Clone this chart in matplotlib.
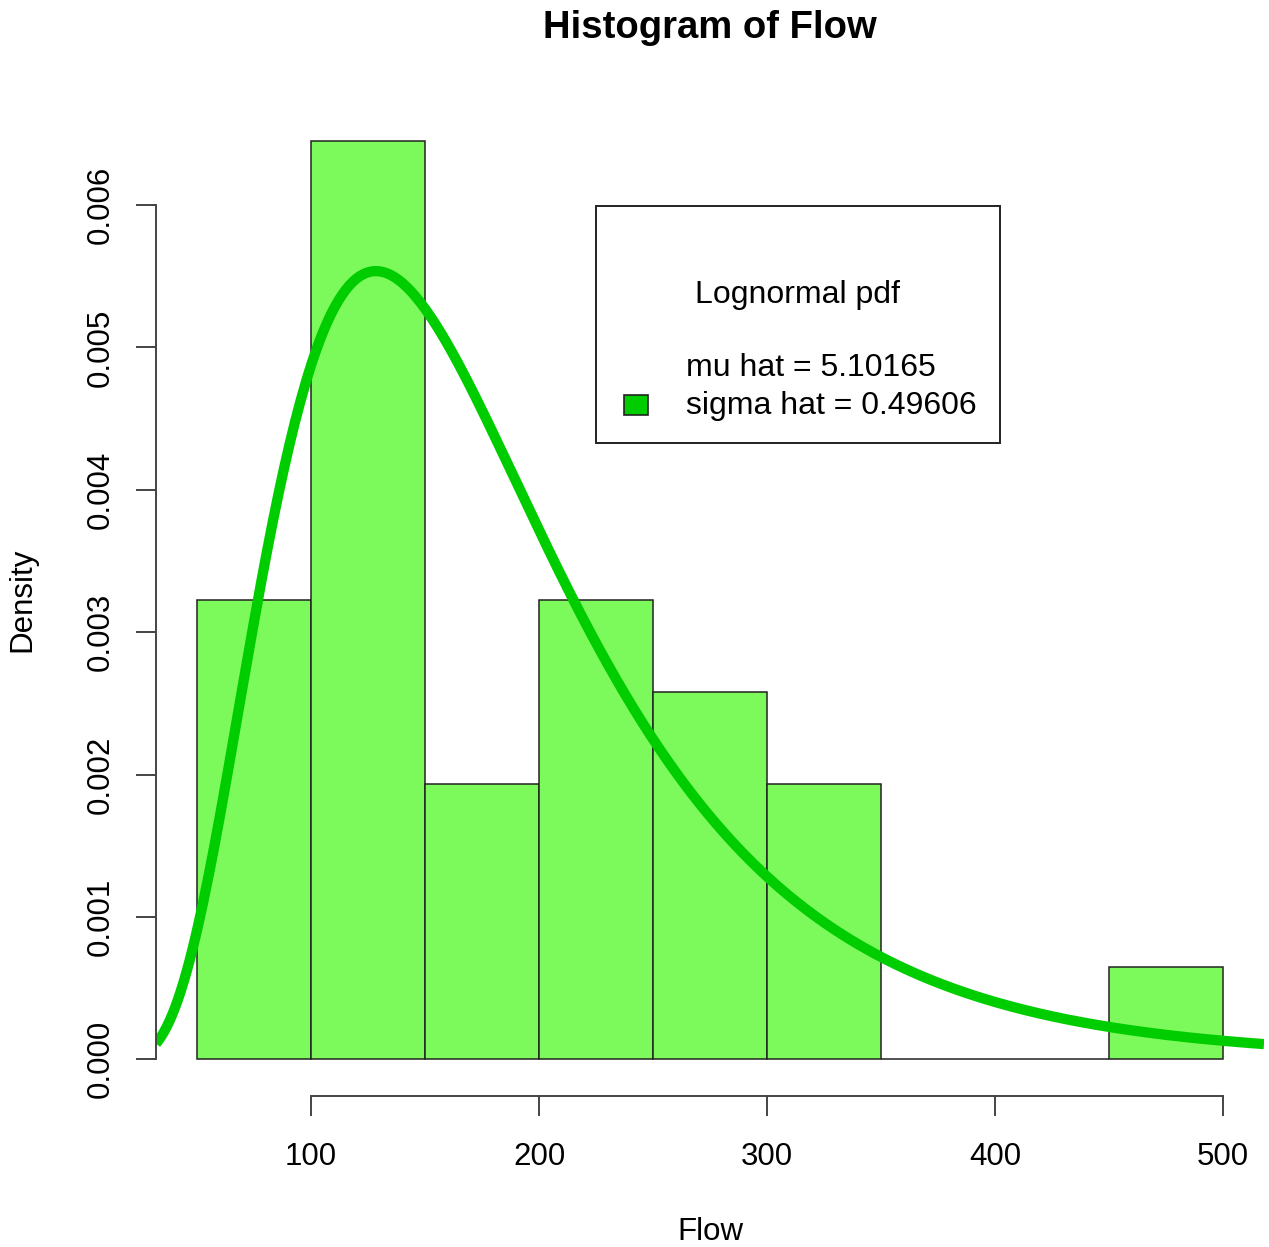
import numpy as np
import matplotlib

matplotlib.use("Agg")
import matplotlib.pyplot as plt
from matplotlib.patches import Rectangle

# histogram of Flow: 50-wide bins, counts
bin_edges = [50, 100, 150, 200, 250, 300, 350, 400, 450, 500]
bin_counts = [5, 10, 3, 5, 4, 3, 0, 0, 1]

# fitted lognormal parameters shown in the legend
mu_hat = 5.10165
sigma_hat = 0.49606

x_ticks = [100, 200, 300, 400, 500]
y_ticks = [0.000, 0.001, 0.002, 0.003, 0.004, 0.005, 0.006]

bar_color = "#7cfa5c"
curve_color = "#00cd00"
axis_color = "#444444"

plt.rcParams["font.family"] = ["Liberation Sans", "DejaVu Sans"]

counts = np.asarray(bin_counts, dtype=float)
edges = np.asarray(bin_edges, dtype=float)
widths = np.diff(edges)
density = counts / (counts.sum() * widths)

# R-style 4% axis extension
x_lo, x_hi = edges[0], edges[-1]
x_pad = 0.04 * (x_hi - x_lo)
y_hi = density.max()
y_pad = 0.04 * y_hi

fig = plt.figure(figsize=(12.69, 12.47), dpi=100)
ax = fig.add_axes([156 / 1269, 151 / 1247, 1108 / 1269, 992 / 1247])

ax.bar(edges[:-1], density, width=widths, align="edge", color=bar_color,
       edgecolor="#222222", linewidth=1.1)

xs = np.linspace(x_lo - x_pad, x_hi + x_pad, 400)
pdf = np.exp(-(np.log(xs) - mu_hat) ** 2 / (2 * sigma_hat ** 2)) / (
    xs * sigma_hat * np.sqrt(2 * np.pi)
)
ax.plot(xs, pdf, color=curve_color, linewidth=7.4, solid_capstyle="butt")

ax.set_xlim(x_lo - x_pad, x_hi + x_pad)
ax.set_ylim(-y_pad, y_hi + y_pad)

for side in ("top", "right"):
    ax.spines[side].set_visible(False)
for side in ("left", "bottom"):
    ax.spines[side].set_color(axis_color)
    ax.spines[side].set_linewidth(1.4)
ax.spines["left"].set_bounds(y_ticks[0], y_ticks[-1])
ax.spines["bottom"].set_bounds(x_ticks[0], x_ticks[-1])

ax.set_xticks(x_ticks)
ax.set_xticklabels([str(v) for v in x_ticks])
ax.set_yticks(y_ticks)
ax.set_yticklabels([f"{v:.3f}" for v in y_ticks], rotation=90, va="center")
ax.tick_params(axis="both", length=14.4, width=1.4, color=axis_color,
               labelsize=22.5)
ax.tick_params(axis="x", pad=19)
ax.tick_params(axis="y", pad=14.5)

ax.set_xlabel("Flow", fontsize=22.5, va="center")
ax.xaxis.set_label_coords(0.5, -0.137)
ax.set_ylabel("Density", fontsize=22.5, va="center")
ax.yaxis.set_label_coords(-0.121, 0.5)

fig.text(710 / 1269, 1 - 28 / 1247, "Histogram of Flow", ha="center",
         va="center", fontsize=27.5, fontweight="bold")

# legend box drawn by hand (R-style, fill square on the last entry only)
ax.add_patch(Rectangle((0.397, 0.658), 0.365, 0.239, transform=ax.transAxes,
                       facecolor="white", edgecolor="#222222", linewidth=1.4,
                       zorder=5))
ax.text(0.579, 0.8075, "Lognormal pdf", transform=ax.transAxes, ha="center",
        va="center", fontsize=23, zorder=6)
ax.text(0.478, 0.734, f"mu hat = {mu_hat:.5f}", transform=ax.transAxes,
        ha="left", va="center", fontsize=23, zorder=6)
ax.text(0.478, 0.6956, f"sigma hat = {sigma_hat:.5f}", transform=ax.transAxes,
        ha="left", va="center", fontsize=23, zorder=6)
ax.add_patch(Rectangle((0.4224, 0.6865), 0.0216, 0.0202, transform=ax.transAxes,
                       facecolor=curve_color, edgecolor="#222222",
                       linewidth=1.2, zorder=6))

fig.savefig("out.png", dpi=100)
